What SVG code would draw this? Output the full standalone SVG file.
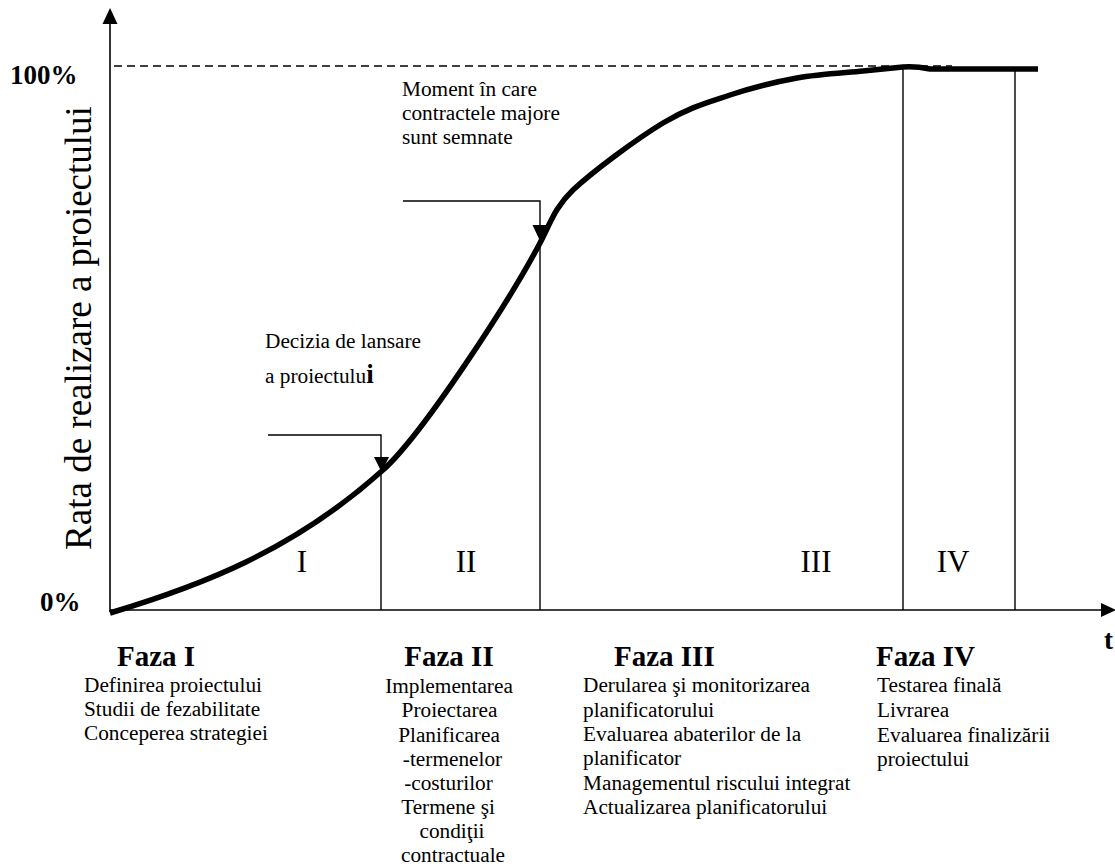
<svg xmlns="http://www.w3.org/2000/svg" width="1115" height="867" viewBox="0 0 1115 867">
  <style>
    text { font-family: "Liberation Serif", "Times New Roman", serif; fill: #000; }
    .body { font-size: 21.3px; }
    .head { font-size: 29px; font-weight: bold; }
    .pct { font-size: 27px; font-weight: bold; }
    .roman { font-size: 31px; }
    .ylabel { font-size: 37px; }
    .axis { stroke: #000; stroke-width: 1.6; fill: none; }
    .thin { stroke: #000; stroke-width: 1.4; fill: none; }
    .curve { stroke: #000; stroke-width: 5.5; fill: none; stroke-linejoin: round; }
    .dash { stroke: #000; stroke-width: 1.4; stroke-dasharray: 8 5; fill: none; }
    .tri { fill: #000; stroke: none; }
  </style>

  <rect width="1115" height="867" fill="#fff"/>

  <!-- axes -->
  <g id="axes">
    <line class="axis" x1="110" y1="612" x2="110" y2="22"/>
    <polygon class="tri" points="102.5,24 117.5,24 110,8"/>
    <line class="axis" x1="110" y1="610" x2="1103" y2="610"/>
    <polygon class="tri" points="1101,603 1101,617 1116,610"/>
    <line class="dash" x1="114" y1="66" x2="952" y2="66"/>
    <text class="pct" x="10" y="84">100%</text>
    <text class="pct" x="40" y="611">0%</text>
    <text class="pct" x="1104" y="649">t</text>
    <text class="ylabel" transform="translate(91,328) rotate(-90)" text-anchor="middle">Rata de realizare a proiectului</text>
  </g>

  <!-- phase dividers and callouts -->
  <g id="connectors">
    <polyline class="thin" points="268,435 381,435 381,610"/>
    <polygon class="tri" points="374,457 389,457 381.5,472"/>
    <polyline class="thin" points="403,201 540,201 540,610"/>
    <polygon class="tri" points="532.5,225 547.5,225 540,241"/>
    <line class="thin" x1="903" y1="68" x2="903" y2="610"/>
    <line class="thin" x1="1015" y1="68" x2="1015" y2="610"/>
  </g>

  <!-- completion curve -->
  <g id="curve">
    <path class="curve" d="M110,613 C200,586 293,551 383,470 C423,434 510,300 540,243 C550,224 555,207 573,190 C593.5,171 636.8,138.8 663,123 C689.2,107.2 707.7,102.5 730,95 C752.3,87.5 774.8,82 797,78 C819.2,74 845.3,72.8 863,71 C880.7,69.2 896.3,67.7 903,67 Q915,66 930,69 L1038,69"/>
  </g>

  <!-- phase numerals -->
  <g id="numerals" class="roman" text-anchor="middle">
    <text x="302" y="572">I</text>
    <text x="466" y="572">II</text>
    <text x="816" y="572">III</text>
    <text x="953" y="572">IV</text>
  </g>

  <!-- milestone labels -->
  <g id="label-launch" class="body">
    <text x="265" y="348">Decizia de lansare</text>
    <text x="265" y="383">a proiectulu<tspan style="font-size:27px;font-weight:bold">i</tspan></text>
  </g>
  <g id="label-contracts" class="body">
    <text x="402" y="96">Moment în care</text>
    <text x="402" y="120">contractele majore</text>
    <text x="402" y="144">sunt semnate</text>
  </g>

  <!-- phase descriptions -->
  <g id="faza-1">
    <text class="head" x="117" y="666">Faza I</text>
    <g class="body">
      <text x="84" y="692">Definirea proiectului</text>
      <text x="84" y="716">Studii de fezabilitate</text>
      <text x="84" y="740">Conceperea strategiei</text>
    </g>
  </g>
  <g id="faza-2">
    <text class="head" x="449" y="666" text-anchor="middle">Faza II</text>
    <g class="body" text-anchor="middle">
      <text x="449" y="693">Implementarea</text>
      <text x="449.5" y="717">Proiectarea</text>
      <text x="449" y="742">Planificarea</text>
      <text x="452.5" y="766">-termenelor</text>
      <text x="448.5" y="790">-costurilor</text>
      <text x="448" y="814">Termene şi</text>
      <text x="452" y="838">condiţii</text>
      <text x="453" y="862">contractuale</text>
    </g>
  </g>
  <g id="faza-3">
    <text class="head" x="614" y="666">Faza III</text>
    <g class="body">
      <text x="583" y="692">Derularea şi monitorizarea</text>
      <text x="583" y="717">planificatorului</text>
      <text x="583" y="741">Evaluarea abaterilor de la</text>
      <text x="583" y="765">planificator</text>
      <text x="583" y="790">Managementul riscului integrat</text>
      <text x="583" y="814">Actualizarea planificatorului</text>
    </g>
  </g>
  <g id="faza-4">
    <text class="head" x="876" y="666">Faza IV</text>
    <g class="body">
      <text x="877" y="692">Testarea finală</text>
      <text x="877" y="717">Livrarea</text>
      <text x="877" y="742">Evaluarea finalizării</text>
      <text x="877" y="766">proiectului</text>
    </g>
  </g>
</svg>
